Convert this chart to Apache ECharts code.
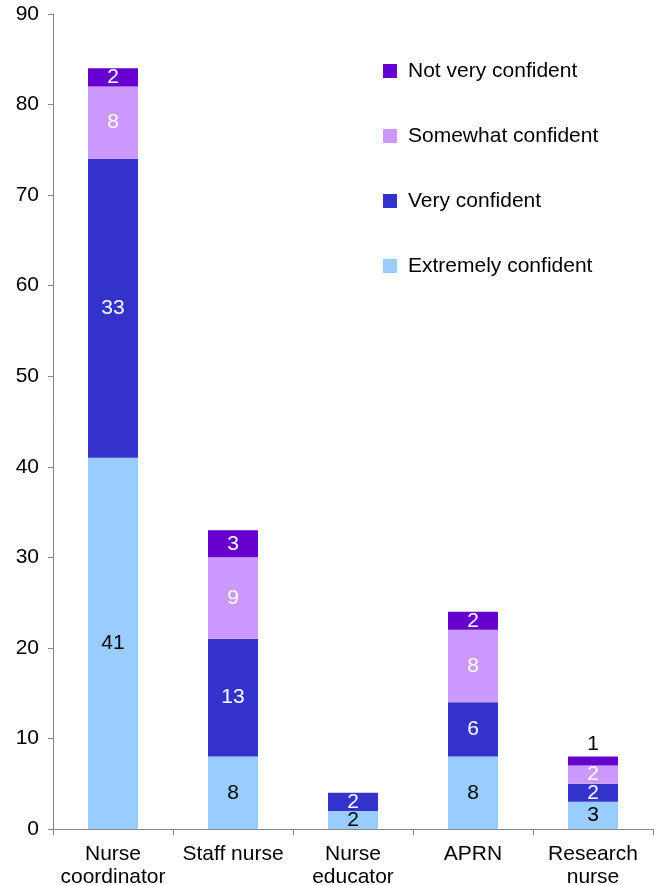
<!DOCTYPE html>
<html>
<head>
<meta charset="utf-8">
<script src="https://cdn.jsdelivr.net/npm/echarts@6/dist/echarts.min.js"></script>
<style>html,body{margin:0;padding:0;background:#fff;}#c{width:656px;height:885px;}</style>
</head>
<body>
<div id="c"></div>
<script>
const categories = ['Nurse\ncoordinator', 'Staff nurse', 'Nurse\neducator', 'APRN', 'Research\nnurse'];
const extremelyConfident = [41, 8, 2, 8, 3];
const veryConfident = [33, 13, 2, 6, 2];
const somewhatConfident = [8, 9, 0, 8, 2];
const notVeryConfident = [2, 3, 0, 2, 1];
const yTicks = [0, 10, 20, 30, 40, 50, 60, 70, 80, 90];

const FONT = '"Liberation Sans", Arial, Helvetica, sans-serif';
const FS = 21;
const chart = echarts.init(document.getElementById('c'));
function lbl(color) {
  return {show: true, position: 'inside', color: color, fontSize: FS, fontFamily: FONT,
    formatter: p => (p.value ? String(p.value) : '')};
}
function mk(name, data, color, labelColor) {
  return {name, type: 'bar', stack: 'total', barWidth: 50, data: data,
    itemStyle: {color: color}, label: lbl(labelColor), emphasis: {disabled: true}};
}
const notVeryData = notVeryConfident.map((v, i) => i === 4 ? {value: v, label: {position: 'top', color: '#000', distance: 2}} : v);
chart.setOption({
  animation: false,
  textStyle: {fontFamily: FONT},
  grid: {left: 53, right: 3, top: 14, bottom: 56, containLabel: false, outerBoundsMode: 'none'},
  legend: {
    orient: 'vertical', left: 378, top: 55, itemWidth: 14, itemHeight: 14, itemGap: 43,
    icon: 'rect',
    data: ['Not very confident', 'Somewhat confident', 'Very confident', 'Extremely confident'],
    textStyle: {fontSize: FS, color: '#000', fontFamily: FONT, lineHeight: 22, padding: [0, 0, 0, 6]}
  },
  xAxis: {
    type: 'category', data: categories,
    axisLine: {lineStyle: {color: '#888', width: 1}},
    axisTick: {show: true, length: 6, lineStyle: {color: '#888'}},
    axisLabel: {color: '#000', fontSize: FS, fontFamily: FONT, margin: 14, lineHeight: 23, interval: 0}
  },
  yAxis: {
    type: 'value', min: yTicks[0], max: yTicks[yTicks.length - 1], interval: 10,
    axisLine: {show: true, lineStyle: {color: '#888', width: 1}},
    axisTick: {show: true, length: 5, lineStyle: {color: '#888'}},
    splitLine: {show: false},
    axisLabel: {color: '#000', fontSize: FS, fontFamily: FONT, margin: 14}
  },
  series: [
    mk('Extremely confident', extremelyConfident, '#99ccff', '#000'),
    mk('Very confident', veryConfident, '#3333cc', '#fff'),
    mk('Somewhat confident', somewhatConfident, '#cc99ff', '#fff'),
    mk('Not very confident', notVeryData, '#6600cc', '#fff')
  ]
});
</script>
</body>
</html>
